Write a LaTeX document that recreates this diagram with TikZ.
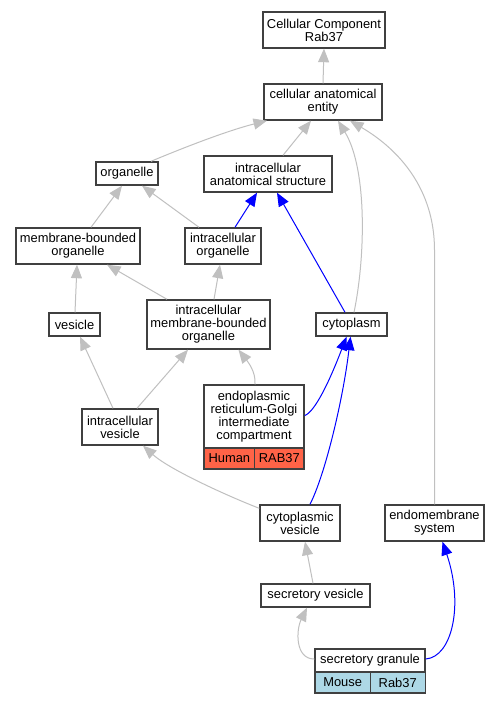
\documentclass[tikz,border=0pt]{standalone}
\usepackage{fontspec}
\setmainfont{Liberation Sans}
\usetikzlibrary{arrows.meta,calc}
\definecolor{edgegray}{HTML}{C0C0C0}
\definecolor{boxline}{HTML}{404040}
\definecolor{humanred}{HTML}{FF6347}
\definecolor{mouseblue}{HTML}{ADD8E6}
\begin{document}
\begin{tikzpicture}[x=1pt,y=-1pt,
  font=\fontsize{12.9}{13}\selectfont,
  box/.style={draw=boxline, line width=1.4pt, fill=white, inner sep=0pt, align=center, text=black},
  cell/.style={box, line width=1.1pt, minimum height=21pt},
  ge/.style={draw=edgegray, line width=1pt, -{Triangle[length=13.5pt,width=11pt]}},
  be/.style={draw=blue, line width=1pt, -{Triangle[length=13.5pt,width=11pt]}}]
\useasboundingbox (0,0) rectangle (500,704);
\fill[white] (0,0) rectangle (500,704);

% nodes
\node[box, minimum width=122pt, minimum height=36pt] (ccr) at (324,30) {Cellular Component\\Rab37};
\node[box, minimum width=118pt, minimum height=36pt] (cae) at (323,102) {cellular anatomical\\entity};
\node[box, minimum width=62pt, minimum height=23pt] (org) at (127,173.5) {organelle};
\node[box, minimum width=128pt, minimum height=36pt] (ias) at (268,174) {intracellular\\anatomical structure};
\node[box, minimum width=124pt, minimum height=36pt] (mbo) at (78,246) {membrane-bounded\\organelle};
\node[box, minimum width=76pt, minimum height=36pt] (io) at (223,246) {intracellular\\organelle};
\node[box, minimum width=51pt, minimum height=23pt] (ves) at (74.5,324.5) {vesicle};
\node[box, minimum width=123pt, minimum height=49pt] (imbo) at (208.5,324.5) {intracellular\\membrane-bounded\\organelle};
\node[box, minimum width=71pt, minimum height=23pt] (cyto) at (351.5,324.5) {cytoplasm};
\node[box, minimum width=100pt, minimum height=63pt] (ergic) at (254,416.5) {endoplasmic\\reticulum-Golgi\\intermediate\\compartment};
\node[cell, fill=humanred, minimum width=50.7pt] (ergich) at (229.35,458.5) {Human};
\node[cell, fill=humanred, minimum width=49.3pt] (ergicr) at (279.35,458.5) {RAB37};
\node[box, minimum width=76pt, minimum height=36pt] (iv) at (120,427) {intracellular\\vesicle};
\node[box, minimum width=80pt, minimum height=36pt] (cv) at (300,523) {cytoplasmic\\vesicle};
\node[box, minimum width=99pt, minimum height=36pt] (ems) at (434.5,523) {endomembrane\\system};
\node[box, minimum width=109pt, minimum height=23pt] (sv) at (315.5,595.5) {secretory vesicle};
\node[box, minimum width=110pt, minimum height=23pt] (sg) at (370,660.5) {secretory granule};
\node[cell, fill=mouseblue, minimum width=55.3pt] (sgm) at (342.65,682.5) {Mouse};
\node[cell, fill=mouseblue, minimum width=55pt] (sgr) at (397.75,682.5) {Rab37};

% edges
\draw[ge] (cae.north) -- (ccr.south);
\draw[ge] ($(org.north)+(24,0)$) .. controls (190,145) and (230,130) .. ($(cae.south)+(-56,0)$);
\draw[ge] ($(ias.north)+(15,0)$) -- ($(cae.south)+(-12,0)$);
\draw[ge] ($(cyto.north)+(2.5,0)$) .. controls (365,260) and (368,170) .. ($(cae.south)+(15,0)$);
\draw[ge] (ems.north) -- (434.5,250) .. controls (434.5,190) and (400,150) .. ($(cae.south)+(27,0)$);
\draw[ge] ($(mbo.north)+(13,0)$) -- ($(org.south)+(-5,0)$);
\draw[ge] ($(io.north)+(-24,0)$) -- ($(org.south)+(15,0)$);
\draw[be] ($(io.north)+(12,0)$) -- ($(ias.south)+(-11,0)$);
\draw[be] ($(cyto.north)+(-6.5,0)$) -- ($(ias.south)+(9,0)$);
\draw[ge] ($(ves.north)+(0.5,0)$) -- ($(mbo.south)+(-1,0)$);
\draw[ge] ($(imbo.north)+(-41.5,0)$) -- ($(mbo.south)+(29,0)$);
\draw[ge] ($(imbo.north)+(5.5,0)$) -- ($(io.south)+(-3,0)$);
\draw[ge] ($(iv.north)+(-7,0)$) -- ($(ves.south)+(5.5,0)$);
\draw[ge] ($(iv.north)+(17,0)$) -- ($(imbo.south)+(-20.5,0)$);
\draw[ge] ($(ergic.north)+(1,0)$) .. controls (256,372) and (248,362) .. ($(imbo.south)+(30,0)$);
\draw[be] ($(ergic.east)+(0,-1)$) .. controls (315,412) and (330,380) .. ($(cyto.south)+(-5,0)$);
\draw[be] ($(cv.north)+(10,0)$) .. controls (325,475) and (343,400) .. ($(cyto.south)+(-1,0)$);
\draw[ge] ($(cv.north west)+(0,4)$) .. controls (230,497) and (170,470) .. ($(iv.south)+(23,0)$);
\draw[ge] ($(sv.north)+(-2.5,0)$) -- ($(cv.south)+(5,0)$);
\draw[ge] ($(sg.west)+(0,-1.5)$) .. controls (295,659) and (296,630) .. ($(sv.south)+(-8.5,0)$);
\draw[be] ($(sg.east)+(0,-1.5)$) .. controls (452,657) and (464,605) .. ($(ems.south)+(8,0)$);
\end{tikzpicture}
\end{document}
